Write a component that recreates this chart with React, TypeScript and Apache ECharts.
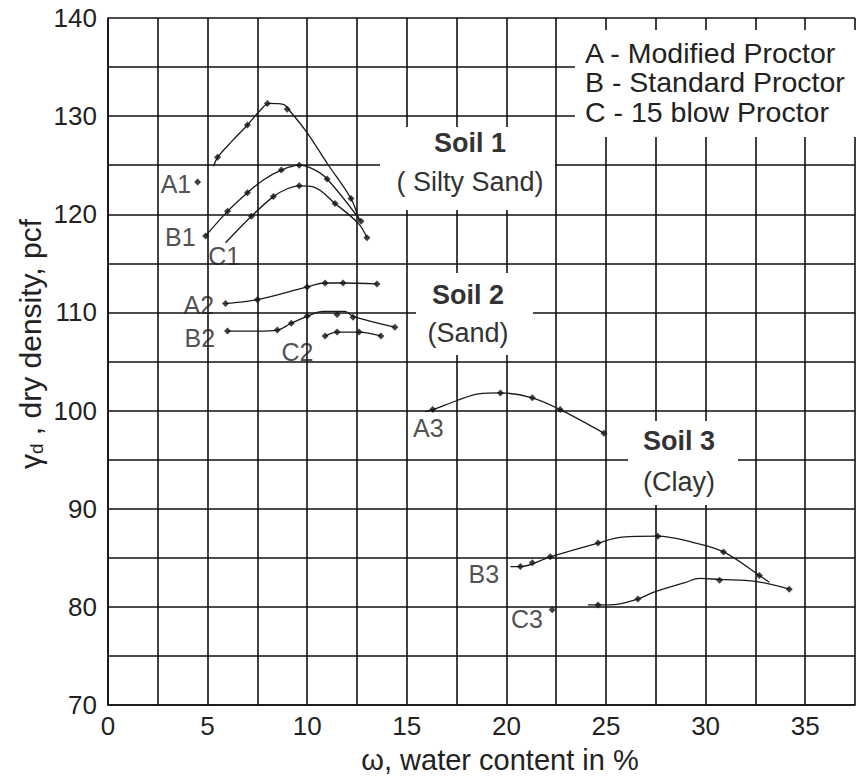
import React, { useEffect, useRef } from "react";
import * as echarts from "echarts";

// ---- data ----
const xLabeled = [0, 5, 10, 15, 20, 25, 30, 35];
const yLabeled = [70, 80, 90, 100, 110, 120, 130, 140];

// Soil 1 (Silty Sand)
const a1Points = [[4.5, 123.3], [5.5, 125.8], [7.0, 129.1], [8.0, 131.3], [9.0, 130.7], [12.2, 121.6]];
const a1Curve = [[5.3, 124.9], [5.5, 125.8], [6.2, 127.4], [7.0, 129.1], [7.6, 130.5], [8.1, 131.3], [8.8, 131.2], [9.1, 130.6], [10.0, 128.3], [11.0, 125.2], [12.2, 121.6], [12.6, 119.4]];
const b1Points = [[4.9, 117.8], [6.0, 120.3], [7.0, 122.2], [8.7, 124.5], [9.6, 125.0], [11.0, 123.6], [12.7, 119.3]];
const b1Curve = [[4.9, 117.8], [6.0, 120.3], [7.0, 122.2], [7.8, 123.5], [8.7, 124.5], [9.6, 125.0], [10.3, 124.6], [11.0, 123.6], [12.7, 119.3]];
const c1Points = [[7.2, 119.8], [8.3, 121.8], [9.6, 122.9], [11.4, 121.1], [13.0, 117.6]];
const c1Curve = [[5.9, 117.1], [7.2, 119.8], [8.3, 121.8], [9.0, 122.6], [9.6, 122.9], [10.3, 122.8], [11.4, 121.1], [12.6, 119.0], [13.0, 117.6]];

// Soil 2 (Sand)
const a2Points = [[5.9, 110.9], [7.5, 111.3], [10.0, 112.6], [10.9, 113.0], [11.8, 113.0], [13.5, 112.9]];
const a2Curve = [[5.9, 110.9], [7.5, 111.3], [10.0, 112.6], [10.9, 113.0], [11.8, 113.0], [13.5, 112.9]];
const b2Points = [[6.0, 108.1], [8.5, 108.2], [9.2, 108.9], [10.0, 109.6], [11.5, 109.8], [12.3, 109.5], [14.4, 108.5]];
const b2Curve = [[6.0, 108.1], [7.5, 108.1], [8.5, 108.2], [9.2, 108.9], [10.0, 109.6], [10.8, 110.1], [11.9, 110.1], [12.3, 109.6], [14.4, 108.5]];
const c2Points = [[10.9, 107.6], [11.5, 108.0], [12.6, 108.0], [13.7, 107.6]];
const c2Curve = [[10.9, 107.6], [11.5, 108.0], [12.6, 108.0], [13.7, 107.6]];

// Soil 3 (Clay)
const a3Points = [[16.3, 100.1], [19.7, 101.8], [21.3, 101.3], [22.7, 100.1], [24.9, 97.7]];
const a3Curve = [[15.9, 99.9], [16.3, 100.1], [17.5, 101.0], [18.6, 101.7], [19.7, 101.8], [21.3, 101.3], [22.7, 100.1], [24.9, 97.7]];
const b3Points = [[20.7, 84.1], [21.3, 84.5], [22.2, 85.1], [24.6, 86.5], [27.6, 87.2], [30.9, 85.6], [32.7, 83.2]];
const b3Curve = [[20.2, 84.1], [20.7, 84.1], [22.2, 85.1], [24.6, 86.5], [25.8, 87.1], [27.6, 87.2], [29.3, 86.6], [30.9, 85.6], [32.7, 83.2], [33.2, 82.5]];
const c3Points = [[22.3, 79.7], [24.6, 80.2], [26.6, 80.8], [30.7, 82.7], [34.2, 81.8]];
const c3Curve = [[24.1, 80.2], [25.2, 80.2], [26.6, 80.8], [27.4, 81.5], [29.0, 82.5], [29.7, 82.9], [30.7, 82.8], [32.5, 82.6], [34.2, 81.8]];

const curveLabels = [
  { name: "A1", value: [3.41, 123.1] },
  { name: "B1", value: [3.63, 117.7] },
  { name: "C1", value: [5.83, 115.75] },
  { name: "A2", value: [4.56, 110.8] },
  { name: "B2", value: [4.61, 107.4] },
  { name: "C2", value: [9.51, 106.0] },
  { name: "A3", value: [16.08, 98.2] },
  { name: "B3", value: [18.87, 83.35] },
  { name: "C3", value: [21.03, 78.8] },
];

const legendLines = ["A - Modified Proctor", "B - Standard Proctor", "C - 15 blow Proctor"];
const soilTitles = ["Soil 1", "Soil 2", "Soil 3"];
const soilTypes = ["( Silty Sand)", "(Sand)", "(Clay)"];

const FONT = "'Liberation Sans', Arial, Helvetica, sans-serif";
const INK = "#1a1a1a";

export default function App() {
  const ref = useRef<HTMLDivElement>(null);

  useEffect(() => {
    document.body.style.margin = "0";
    if (!ref.current) return;
    const chart = echarts.init(ref.current, undefined, { renderer: "svg" });

    const curves = [a1Curve, b1Curve, c1Curve, a2Curve, b2Curve, c2Curve, a3Curve, b3Curve, c3Curve];
    const points = [a1Points, b1Points, c1Points, a2Points, b2Points, c2Points, a3Points, b3Points, c3Points];
    const names = ["A1", "B1", "C1", "A2", "B2", "C2", "A3", "B3", "C3"];

    const series: any[] = [];
    curves.forEach((c, i) => {
      series.push({
        type: "line",
        name: names[i] + " curve",
        data: c,
        smooth: 0.35,
        showSymbol: false,
        symbol: "none",
        lineStyle: { color: INK, width: 1.3 },
        z: 3,
      });
    });
    points.forEach((p, i) => {
      series.push({
        type: "scatter",
        name: names[i],
        data: p,
        symbol: "diamond",
        symbolSize: 7,
        itemStyle: { color: "#111" },
        z: 4,
      });
    });
    series.push({
      type: "scatter",
      name: "labels",
      data: curveLabels,
      symbolSize: 0,
      label: {
        show: true,
        position: "inside",
        formatter: "{b}",
        fontSize: 25,
        fontFamily: FONT,
        color: "#222",
      },
      z: 5,
    });

    const graphic: any[] = [];
    const boxes = [
      [575, 30, 300, 107],
      [380, 127, 175, 83],
      [416, 273, 117, 82],
      [628, 421, 110, 84],
    ];
    boxes.forEach((b) =>
      graphic.push({
        type: "rect",
        z: 10,
        shape: { x: b[0], y: b[1], width: b[2], height: b[3] },
        style: { fill: "#fff" },
      })
    );
    const legendY = [53, 82, 112];
    legendLines.forEach((t, i) =>
      graphic.push({
        type: "text",
        z: 11,
        x: 585,
        y: legendY[i],
        style: {
          text: t,
          fontSize: 28.5,
          fontFamily: FONT,
          fill: "#222",
          align: "left",
          verticalAlign: "middle",
          textAlign: "left",
          textVerticalAlign: "middle",
        },
      })
    );
    const soilPos = [
      [470, 143, 182],
      [468, 295, 333],
      [679, 441, 482],
    ];
    soilTitles.forEach((t, i) => {
      graphic.push({
        type: "text",
        z: 11,
        x: soilPos[i][0],
        y: soilPos[i][1],
        style: {
          text: t,
          fontSize: 27,
          fontWeight: "bold",
          fontFamily: FONT,
          fill: "#333",
          align: "center",
          verticalAlign: "middle",
          textAlign: "center",
          textVerticalAlign: "middle",
        },
      });
      graphic.push({
        type: "text",
        z: 11,
        x: soilPos[i][0],
        y: soilPos[i][2],
        style: {
          text: soilTypes[i],
          fontSize: 27,
          fontFamily: FONT,
          fill: "#333",
          align: "center",
          verticalAlign: "middle",
          textAlign: "center",
          textVerticalAlign: "middle",
        },
      });
    });
    // axis titles
    graphic.push({
      type: "text",
      z: 11,
      x: 30,
      y: 344,
      rotation: Math.PI / 2,
      style: {
        text: "{g|γ}{s|d}{n| , dry density, pcf}",
        align: "center",
        verticalAlign: "middle",
        textAlign: "center",
        textVerticalAlign: "middle",
        fill: "#222",
        rich: {
          g: { fontSize: 30, fontFamily: FONT, fill: "#222" },
          s: { fontSize: 19, fontFamily: FONT, fill: "#222", padding: [12, 0, 0, 0] },
          n: { fontSize: 30, fontFamily: FONT, fill: "#222" },
        },
      },
    });
    graphic.push({
      type: "text",
      z: 11,
      x: 500,
      y: 760,
      style: {
        text: "ω, water content in %",
        fontSize: 29,
        fontFamily: FONT,
        fill: "#222",
        align: "center",
        verticalAlign: "middle",
        textAlign: "center",
        textVerticalAlign: "middle",
      },
    });

    const gridLine = { show: true, lineStyle: { color: "#111", width: 1.6, type: "solid" as const } };

    chart.setOption({
      animation: false,
      backgroundColor: "#fff",
      grid: { left: 108, right: -15, top: 18, bottom: 71, containLabel: false },
      xAxis: {
        type: "value",
        min: 0,
        max: 37.5,
        interval: 2.5,
        axisLine: { show: true, lineStyle: { color: "#111", width: 1.6 } },
        axisTick: { show: false },
        splitLine: gridLine,
        axisLabel: {
          margin: 8,
          fontSize: 26,
          fontFamily: FONT,
          color: "#222",
          formatter: (v: number) => (xLabeled.includes(v) ? String(v) : ""),
        },
      },
      yAxis: {
        type: "value",
        min: 70,
        max: 140,
        interval: 5,
        axisLine: { show: true, lineStyle: { color: "#111", width: 1.6 } },
        axisTick: { show: false },
        splitLine: gridLine,
        axisLabel: {
          margin: 11,
          fontSize: 26,
          fontFamily: FONT,
          color: "#222",
          formatter: (v: number) => (yLabeled.includes(v) ? String(v) : ""),
        },
      },
      series,
      graphic,
    });

    return () => chart.dispose();
  }, []);

  return <div ref={ref} style={{ width: 858, height: 776 }} />;
}
